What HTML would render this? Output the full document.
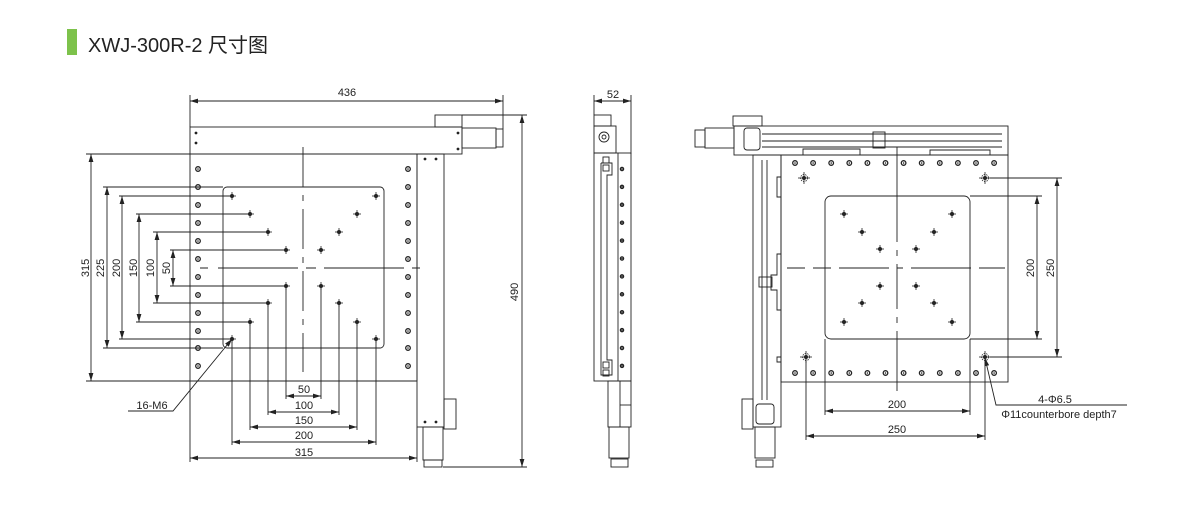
<!DOCTYPE html>
<html><head><meta charset="utf-8"><style>
html,body{margin:0;padding:0;background:#fff;width:1187px;height:520px;overflow:hidden}
svg{display:block}
text{font-family:"Liberation Sans",Arial,sans-serif;fill:#222}
</style></head><body>
<svg id="s" width="1187" height="520" viewBox="0 0 1187 520" xmlns="http://www.w3.org/2000/svg">
<defs>
<marker id="a" viewBox="0 0 10 6" refX="10" refY="3" markerWidth="8" markerHeight="5" orient="auto-start-reverse" markerUnits="userSpaceOnUse"><path d="M0,0L10,3L0,6z" fill="#222"/></marker>
</defs>
<rect x="67" y="29" width="10" height="26" fill="#7dc24b"/>
<text x="88" y="52" font-size="20" style="font-family:'Liberation Sans','Noto Sans CJK SC',sans-serif">XWJ-300R-2 尺寸图</text>

<g id="g" fill="none" stroke="#222" stroke-width="0.9">
<!-- LEFT VIEW -->
<rect x="190" y="127" width="272" height="27"/>
<rect x="190" y="154" width="227" height="227"/>
<rect x="417" y="154" width="27" height="273"/>
<rect x="435" y="115" width="27" height="12"/>
<rect x="462" y="128" width="34" height="20"/>
<rect x="496" y="129" width="7" height="18"/>
<rect x="423" y="427" width="20" height="33"/>
<rect x="424" y="460" width="18" height="7"/>
<rect x="444" y="399" width="12" height="30"/>
<rect x="223" y="187" width="161" height="161" rx="4"/>
<line x1="303" y1="147" x2="303" y2="372" stroke-dasharray="40,8,6,8"/>
<line x1="200" y1="268" x2="420" y2="268" stroke-dasharray="8,10,80,8,10,8,80,8"/>
<!-- 436 -->
<line x1="190" y1="95" x2="190" y2="127"/><line x1="503" y1="95" x2="503" y2="129"/>
<line x1="190" y1="101" x2="503" y2="101" marker-start="url(#a)" marker-end="url(#a)"/>
<!-- 490 -->
<line x1="462" y1="115" x2="527" y2="115"/><line x1="443" y1="467" x2="527" y2="467"/>
<line x1="522" y1="115" x2="522" y2="467" marker-start="url(#a)" marker-end="url(#a)"/>
<!-- 315 vertical -->
<line x1="86" y1="154" x2="190" y2="154"/><line x1="86" y1="381" x2="417" y2="381"/>
<line x1="91" y1="154" x2="91" y2="381" marker-start="url(#a)" marker-end="url(#a)"/>
<line x1="103" y1="187" x2="223" y2="187"/><line x1="103" y1="348" x2="223" y2="348"/>
<line x1="107" y1="187" x2="107" y2="348" marker-start="url(#a)" marker-end="url(#a)"/>
<line x1="119" y1="196" x2="232" y2="196"/><line x1="119" y1="339" x2="232" y2="339"/>
<line x1="122" y1="196" x2="122" y2="339" marker-start="url(#a)" marker-end="url(#a)"/>
<line x1="136" y1="214" x2="250" y2="214"/><line x1="136" y1="322" x2="250" y2="322"/>
<line x1="139" y1="214" x2="139" y2="322" marker-start="url(#a)" marker-end="url(#a)"/>
<line x1="153" y1="232" x2="268" y2="232"/><line x1="153" y1="303" x2="268" y2="303"/>
<line x1="157" y1="232" x2="157" y2="303" marker-start="url(#a)" marker-end="url(#a)"/>
<line x1="170" y1="250" x2="286" y2="250"/><line x1="170" y1="286" x2="286" y2="286"/>
<line x1="173" y1="250" x2="173" y2="286" marker-start="url(#a)" marker-end="url(#a)"/>
<!-- bottom dims -->
<line x1="286" y1="286" x2="286" y2="399"/><line x1="321" y1="286" x2="321" y2="399"/>
<line x1="286" y1="396" x2="321" y2="396" marker-start="url(#a)" marker-end="url(#a)"/>
<line x1="268" y1="303" x2="268" y2="415"/><line x1="339" y1="303" x2="339" y2="415"/>
<line x1="268" y1="412" x2="339" y2="412" marker-start="url(#a)" marker-end="url(#a)"/>
<line x1="250" y1="322" x2="250" y2="430"/><line x1="357" y1="322" x2="357" y2="430"/>
<line x1="250" y1="427" x2="357" y2="427" marker-start="url(#a)" marker-end="url(#a)"/>
<line x1="232" y1="339" x2="232" y2="445"/><line x1="376" y1="339" x2="376" y2="445"/>
<line x1="232" y1="442" x2="376" y2="442" marker-start="url(#a)" marker-end="url(#a)"/>
<line x1="190" y1="381" x2="190" y2="462"/><line x1="417" y1="427" x2="417" y2="462"/>
<line x1="190" y1="458" x2="417" y2="458" marker-start="url(#a)" marker-end="url(#a)"/>
<polyline points="128,411 173,411 232,339" marker-end="url(#a)"/>

<!-- SIDE VIEW -->
<line x1="594" y1="95" x2="594" y2="115"/><line x1="631" y1="95" x2="631" y2="154"/>
<line x1="594" y1="101" x2="631" y2="101" marker-start="url(#a)" marker-end="url(#a)"/>
<rect x="594" y="115" width="17" height="11"/>
<rect x="594" y="126" width="22" height="27"/>
<circle cx="604" cy="137" r="5"/><circle cx="604" cy="137" r="2"/>
<rect x="594" y="153" width="37" height="228"/>
<line x1="618" y1="153" x2="618" y2="381"/>
<polyline points="601,163 612,163 612,175 607,175 607,360 612,360 612,375 601,375 601,163"/>
<rect x="603" y="157" width="6" height="6"/><rect x="603" y="165" width="6" height="6"/>
<rect x="603" y="362" width="6" height="6"/><rect x="603" y="370" width="6" height="6"/>
<rect x="608" y="381" width="23" height="46"/>
<line x1="620" y1="381" x2="620" y2="427"/><line x1="620" y1="405" x2="631" y2="405"/>
<rect x="609" y="427" width="20" height="31"/>
<rect x="611" y="459" width="17" height="8"/>

<!-- RIGHT VIEW -->
<rect x="733" y="116" width="29" height="10"/>
<rect x="734" y="126" width="274" height="29"/>
<line x1="762" y1="134" x2="1002" y2="134"/><line x1="762" y1="141" x2="1002" y2="141"/><line x1="762" y1="147" x2="1002" y2="147"/>
<rect x="744" y="128" width="16" height="22" rx="3"/>
<rect x="873" y="132" width="12" height="16"/>
<polyline points="803,155 803,149 860,149 860,155"/>
<polyline points="930,155 930,150 990,150 990,155"/>
<rect x="705" y="128" width="29" height="20"/>
<rect x="695" y="130" width="10" height="17"/>
<rect x="781" y="155" width="227" height="227"/>
<rect x="753" y="155" width="28" height="272"/>
<line x1="762" y1="160" x2="762" y2="400"/><line x1="767" y1="160" x2="767" y2="400"/>
<polyline points="781,177 777,177 777,197 781,197"/>
<polyline points="781,254 777,254 777,275 771,275 771,290 777,290 777,310 781,310"/>
<polyline points="781,357 777,357 777,362 781,362"/>
<rect x="759" y="277" width="13" height="10"/>
<rect x="742" y="399" width="11" height="30"/>
<rect x="756" y="404" width="18" height="20" rx="3"/>
<rect x="755" y="427" width="20" height="31"/>
<rect x="756" y="460" width="17" height="7"/>
<rect x="825" y="196" width="145" height="143" rx="6"/>
<line x1="897" y1="147" x2="897" y2="392" stroke-dasharray="95,8,6,8,45,8,6,8,60,8,6"/>
<line x1="787" y1="268" x2="1005" y2="268" stroke-dasharray="18,8,18,8,50,8,6,8,60,8,50"/>
<!-- right dims -->
<line x1="970" y1="196" x2="1042" y2="196"/><line x1="970" y1="339" x2="1042" y2="339"/>
<line x1="1037" y1="196" x2="1037" y2="339" marker-start="url(#a)" marker-end="url(#a)"/>
<line x1="990" y1="178" x2="1062" y2="178"/><line x1="990" y1="357" x2="1062" y2="357"/>
<line x1="1057" y1="178" x2="1057" y2="357" marker-start="url(#a)" marker-end="url(#a)"/>
<line x1="825" y1="339" x2="825" y2="415"/><line x1="970" y1="339" x2="970" y2="415"/>
<line x1="825" y1="411" x2="970" y2="411" marker-start="url(#a)" marker-end="url(#a)"/>
<line x1="806" y1="357" x2="806" y2="440"/><line x1="985" y1="357" x2="985" y2="440"/>
<line x1="806" y1="436" x2="985" y2="436" marker-start="url(#a)" marker-end="url(#a)"/>
<polyline points="1127,405 996,405 985,358" marker-end="url(#a)"/>
</g>
<g font-size="11" text-anchor="middle">
<text x="347" y="96">436</text>
<text x="304" y="393">50</text>
<text x="304" y="409">100</text>
<text x="304" y="424">150</text>
<text x="304" y="439">200</text>
<text x="304" y="456">315</text>
<text x="152" y="409">16-M6</text>
<text transform="translate(89,268) rotate(-90)">315</text>
<text transform="translate(104,268) rotate(-90)">225</text>
<text transform="translate(120,268) rotate(-90)">200</text>
<text transform="translate(137,268) rotate(-90)">150</text>
<text transform="translate(154,268) rotate(-90)">100</text>
<text transform="translate(170,268) rotate(-90)">50</text>
<text transform="translate(518,292) rotate(-90)">490</text>
<text x="613" y="98">52</text>
<text transform="translate(1034,268) rotate(-90)">200</text>
<text transform="translate(1054,268) rotate(-90)">250</text>
<text x="897" y="408">200</text>
<text x="897" y="433">250</text>
<text x="1055" y="403">4-Φ6.5</text>
<text x="1059" y="418">Φ11counterbore depth7</text>
</g>
<g id="h"></g>
</svg>
<script>
var g=document.getElementById('h'),NS='http://www.w3.org/2000/svg';
function el(t,a){var e=document.createElementNS(NS,t);for(var k in a)e.setAttribute(k,a[k]);g.appendChild(e);return e;}
function ring(x,y,r){el('circle',{cx:x,cy:y,r:r||2.3,fill:'none',stroke:'#222','stroke-width':1.3});el('circle',{cx:x,cy:y,r:0.8,fill:'#222'});}
function dot(x,y,r){el('circle',{cx:x,cy:y,r:r||1.4,fill:'#222'});}
function plus(x,y,s){s=s||5;el('line',{x1:x-s,y1:y,x2:x+s,y2:y,stroke:'#222','stroke-width':0.8});el('line',{x1:x,y1:y-s,x2:x,y2:y+s,stroke:'#222','stroke-width':0.8});el('circle',{cx:x,cy:y,r:2,fill:'#222'});}
var ys=[169,187,205,223,241,259,277,295,313,331,348,366];
ys.forEach(function(y){ring(198,y);ring(408,y);});
dot(196,133);dot(196,143);dot(458,133);dot(458,149);dot(425,159);dot(436,159);dot(425,422);dot(436,422);
[[232,196],[250,214],[268,232],[286,250],[376,196],[357,214],[339,232],[321,250],[286,286],[268,303],[250,322],[232,339],[321,286],[339,303],[357,322],[376,339]].forEach(function(p){plus(p[0],p[1],4);});
for(var i=0;i<12;i++){var y=169+i*17.9;ring(622,y,1.6);}
for(var i=0;i<12;i++){var x=795+i*18.1;ring(x,163);ring(x,373);}
[[804,178],[985,178],[806,357],[985,357]].forEach(function(p){plus(p[0],p[1],6);el('circle',{cx:p[0],cy:p[1],r:3.5,fill:'none',stroke:'#222','stroke-width':0.8,'stroke-dasharray':'1.5,1'});});
[[844,214],[862,232],[880,249],[952,214],[934,232],[916,249],[880,286],[862,303],[844,322],[916,286],[934,303],[952,322]].forEach(function(p){plus(p[0],p[1],4);});
</script>
</body></html>
